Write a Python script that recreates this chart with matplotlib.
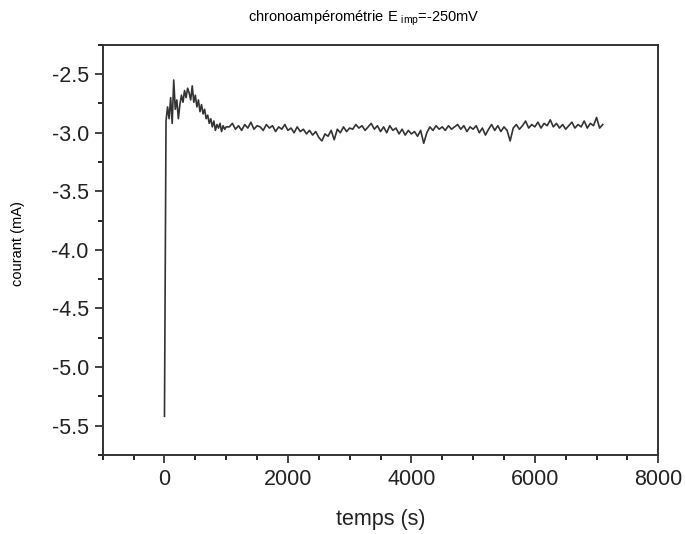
import numpy as np
import matplotlib
matplotlib.use('Agg')
import matplotlib.pyplot as plt
from matplotlib.ticker import MultipleLocator

plt.rcParams['font.family'] = ['Liberation Sans', 'DejaVu Sans']
plt.rcParams['mathtext.fontset'] = 'custom'
plt.rcParams['mathtext.rm'] = 'Liberation Sans'

# first 1000 s, sampled every 25 s
t_early = np.arange(0, 1001, 25)
i_early = [-5.42, -2.90, -2.78, -2.88, -2.70, -2.92, -2.55, -2.80, -2.72, -2.88,
           -2.76, -2.68, -2.74, -2.64, -2.70, -2.62, -2.66, -2.72, -2.60, -2.74,
           -2.68, -2.78, -2.72, -2.82, -2.76, -2.84, -2.80, -2.88, -2.85, -2.92,
           -2.88, -2.95, -2.90, -2.98, -2.93, -2.96, -2.92, -2.99, -2.94, -2.97,
           -2.95]

# rest of the run, sampled every 50 s
t_late = np.arange(1050, 7101, 50)
i_late = [-2.95, -2.92, -2.97, -2.94, -2.98, -2.93, -2.96, -2.91, -2.97, -2.94,
          -2.95, -2.98, -2.93, -2.96, -2.94, -2.99, -2.95, -2.97, -2.93, -2.98,
          -2.96, -3.00, -2.95, -2.99, -2.97, -3.01, -2.98, -3.02, -2.99, -3.04,
          -3.07, -3.01, -3.03, -2.98, -3.06, -2.97, -3.00, -2.95, -2.99, -2.96,
          -2.97, -2.93, -2.96, -2.94, -2.98, -2.95, -2.92, -2.97, -2.94, -2.99,
          -2.95, -3.00, -2.94, -2.98, -2.96, -3.01, -2.97, -3.02, -2.98, -3.01,
          -2.99, -3.03, -2.98, -3.09, -3.00, -2.95, -2.98, -2.94, -2.97, -2.95,
          -2.98, -2.94, -2.97, -2.95, -2.93, -2.97, -2.94, -2.99, -2.95, -2.97,
          -2.94, -3.00, -2.96, -3.02, -2.97, -2.93, -2.98, -2.94, -2.99, -2.95,
          -2.98, -3.07, -2.96, -2.93, -2.97, -2.94, -2.90, -2.96, -2.93, -2.95,
          -2.91, -2.96, -2.92, -2.94, -2.89, -2.95, -2.92, -2.96, -2.93, -2.97,
          -2.94, -2.91, -2.96, -2.93, -2.95, -2.90, -2.96, -2.92, -2.94, -2.87,
          -2.96, -2.93]

temps = np.concatenate([t_early, t_late])
courant = np.array(i_early + i_late)

fig = plt.figure(figsize=(6.85, 5.34), dpi=100)
ax = fig.add_axes([0.150, 0.148, 0.811, 0.768])

ax.plot(temps, courant, color='#333333', lw=1.2)

ax.set_xlim(-1000, 8000)
ax.set_ylim(-5.75, -2.25)
ax.xaxis.set_major_locator(MultipleLocator(2000))
ax.xaxis.set_minor_locator(MultipleLocator(500))
ax.yaxis.set_major_locator(MultipleLocator(0.5))
ax.yaxis.set_minor_locator(MultipleLocator(0.25))
ax.yaxis.set_major_formatter(matplotlib.ticker.FormatStrFormatter('%.1f'))

ax.tick_params(which='major', direction='out', length=6, width=1.2, labelsize=15.5,
               colors='#222222', pad=4)
ax.tick_params(which='minor', direction='out', length=3.5, width=1.2)
ax.tick_params(top=False, right=False, which='both')
for s in ax.spines.values():
    s.set_linewidth(1.4)
    s.set_color('#333333')

ax.set_xlabel('temps (s)', fontsize=15.5, labelpad=14, color='#222222')
fig.text(0.026, 0.543, 'courant (mA)', rotation=90, fontsize=10.5, ha='center', va='center')
fig.text(0.531, 0.966, 'chronoampérométrie E $_{\\mathrm{imp}}$=-250mV', fontsize=10.5,
         ha='center', va='center')

fig.savefig('out.png', dpi=100)
